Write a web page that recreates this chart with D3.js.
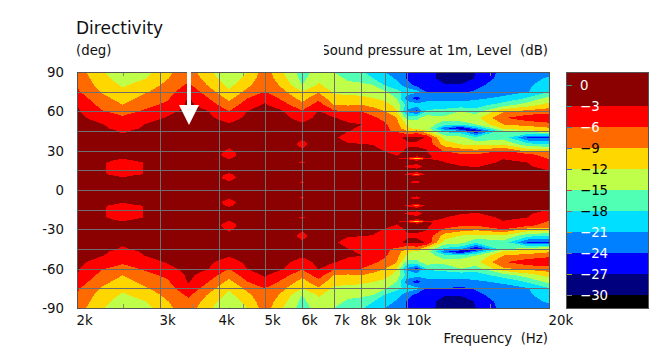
<!DOCTYPE html>
<html>
<head>
<meta charset="utf-8">
<script src="https://cdn.jsdelivr.net/npm/d3@7"></script>
<style>
  html, body { margin: 0; padding: 0; background: #fff; }
  svg { display: block; }
  text { font-family: "DejaVu Sans", sans-serif; font-size: 13.3px; fill: #111; white-space: pre; }
</style>
</head>
<body>
<svg id="chart" width="666" height="351"></svg>
<script>
// measured columns (Hz)
const freqs = [2000, 2250, 2500, 2800, 3100, 3450, 3800, 4200, 4600, 5000, 5500, 6000, 6500, 7000,
  7500, 8000, 8500, 9000, 9500, 10000, 10500, 11000, 12000, 13000, 14000, 16000, 18000, 20000];

// measured rows (deg), response is mirrored below 0
const angles = [90, 85, 80, 75, 70, 65, 60, 55, 50, 47, 45, 40, 35, 30, 27, 25, 24, 23, 21, 18, 15, 13, 12, 11, 9, 6, 3, 0];

// level in dB, one row per angle, one value per freq
const levels = [
  [-7.5,-11.5,-14.5,-13,-9.6,-7.5,-11.3,-15.2,-12,-7.5,-12.3,-16.5,-13.5,-15,-15.7,-17.5,-19.5,-21,-22.5,-24.2,-26,-26,-28,-28.5,-27,-23,-23,-22],
  [-6.9,-10.8,-13.5,-12,-9.2,-6.7,-10.4,-13.8,-10.9,-7,-11.3,-15.8,-12.7,-14.2,-15.3,-16,-18,-19.5,-21.3,-24.2,-26,-26,-27.8,-28.3,-26.8,-22.5,-22.2,-20.5],
  [-6.3,-10.1,-12.4,-10.6,-8.3,-5.4,-9.3,-12.8,-9.7,-6.5,-10,-15,-11.6,-13.4,-14.5,-14.4,-15,-18.3,-19.8,-22.5,-25.2,-25,-26.8,-26.8,-25,-22,-21.7,-19],
  [-5.5,-9.2,-11.3,-9.3,-7.4,-3.9,-7.7,-11.6,-8.1,-6,-8.7,-12,-9.4,-12.5,-12.8,-13,-13.7,-14.6,-17,-19,-20,-24,-24,-24.6,-23.6,-22,-21.2,-18.3],
  [-4.3,-8,-10.2,-8,-6.5,-2.8,-6,-9.8,-6,-3.9,-7,-10.1,-7,-11.1,-11.2,-11.4,-12,-12.8,-15,-22.5,-25.5,-22,-22,-22,-21.5,-20.5,-17.6,-14],
  [-3,-6.9,-9,-6.8,-5.4,-2.4,-4.5,-7.9,-4.3,-2.7,-5.1,-8.2,-4.5,-9,-9.4,-9,-10,-11,-13,-19,-19.5,-20,-19.5,-20,-19.5,-16.5,-13.5,-11],
  [-2.6,-5.7,-7.1,-5.5,-3.9,-2.1,-3,-6,-2.9,-2.4,-3,-5.6,-2.8,-5.4,-6,-6,-7.5,-9,-11.7,-21.5,-25,-17.5,-17,-15,-16.5,-9.6,-8,-7.2],
  [-2.3,-4.2,-5.5,-4.1,-2.8,-2,-2.6,-4.1,-2.5,-2.2,-2.6,-3.8,-2.5,-2.8,-3.9,-4.2,-5.5,-6.9,-8.8,-16,-15.8,-13.5,-14,-12.5,-13,-6.3,-4.2,-3.8],
  [-2,-2.8,-4.4,-2.9,-2.4,-1.9,-2.3,-2.8,-2.3,-2,-2.3,-2.7,-2.3,-2.4,-2.6,-2.95,-3.6,-5.6,-7.8,-12.4,-13.2,-13.5,-16.5,-17.5,-15,-9,-8,-6.8],
  [-2,-2.6,-3.7,-2.7,-2.3,-1.9,-2.2,-2.5,-2.2,-2,-2.2,-2.5,-2.2,-2.3,-2.7,-3.3,-3.9,-5.5,-7,-11.5,-13,-13,-23,-27.5,-21.5,-11.5,-10.5,-9.5],
  [-1.9,-2.4,-3.2,-2.5,-2.2,-1.9,-2.1,-2.4,-2.1,-1.9,-2.1,-2.4,-2.1,-2.3,-2.9,-3.6,-4.2,-5.5,-6.5,-9,-8,-11.9,-19,-20.5,-27.2,-15.5,-12.9,-11.5],
  [-1.9,-2.3,-2.7,-2.3,-2,-1.9,-2,-2.2,-2,-1.9,-2,-2.8,-2,-2.6,-4,-4.6,-5,-5.4,-3.4,-2.7,-2.3,-3.2,-13,-14,-17.5,-16,-24.2,-24.5],
  [-1.8,-2.3,-2.5,-2.2,-1.9,-1.8,-2,-2.5,-2,-1.8,-2,-3.5,-2,-2.4,-2.8,-2.9,-3.1,-4.5,-4,-3.2,-3.4,-3.6,-10.5,-12.2,-13,-12.5,-17,-18.5],
  [-1.8,-2.2,-2.5,-2.2,-1.9,-1.8,-2,-3.3,-2,-1.8,-2,-2.8,-2,-2.2,-2.5,-2.5,-2.6,-3.1,-3.6,-2.8,-2.4,-2.9,-6.3,-7.5,-8.3,-6,-10,-10],
  [-1.8,-2.3,-2.6,-2.2,-1.9,-1.8,-2.1,-3.6,-2.1,-1.8,-2,-2.4,-2,-2.1,-2.4,-3.05,-2.4,-2.6,-3.1,-2.6,-2.2,-2.6,-4.6,-5.7,-5.8,-4.3,-5.2,-7.5],
  [-1.8,-2.4,-2.8,-2.3,-1.9,-1.8,-2.1,-3.3,-2.1,-1.8,-2,-2.4,-2,-2.1,-2.3,-2.3,-2.3,-2.5,-2.9,-2.6,-3.4,-2.5,-4,-4.8,-5.1,-3.4,-4.3,-6.6],
  [-1.8,-2.5,-2.95,-2.4,-1.9,-1.8,-2.1,-3.1,-2.1,-1.8,-2,-2.5,-2,-2.1,-2.3,-2.3,-2.3,-2.4,-2.8,-3.6,-11.5,-3.1,-3.7,-4.5,-4.6,-3.1,-3.9,-6.2],
  [-1.8,-2.6,-3.2,-2.5,-1.9,-1.8,-2.1,-2.8,-2.1,-1.8,-2,-2.8,-2,-2.1,-2.2,-2.2,-2.3,-2.4,-2.7,-2.6,-3.4,-2.5,-3.4,-4.2,-4.3,-2.9,-3.5,-5.8],
  [-1.8,-2.8,-3.6,-2.9,-1.9,-1.8,-2.1,-2.5,-2.1,-1.8,-2,-3.2,-2,-2,-2.2,-2.2,-2.2,-2.3,-2.4,-2.4,-2.4,-2.3,-2.9,-3.8,-3.8,-2.7,-3,-5],
  [-1.8,-2.8,-3.7,-2.9,-1.9,-1.8,-2,-2.3,-2,-1.8,-2,-2.6,-2,-2,-2.1,-2.2,-2.2,-2.2,-2.3,-3.2,-3.8,-2.4,-2.5,-2.9,-3.1,-2.5,-2.7,-4],
  [-1.8,-2.8,-3.7,-2.9,-1.9,-1.8,-2,-2.5,-2,-1.8,-2,-2.3,-2,-2,-2.1,-2.1,-2.2,-2.2,-2.2,-2.4,-2.4,-2.3,-2.4,-2.6,-2.6,-2.4,-2.5,-3],
  [-1.8,-2.8,-3.6,-2.9,-1.9,-1.8,-2,-3,-2,-1.8,-2,-2.2,-2,-2,-2,-2.1,-2.1,-2.2,-2.2,-2.6,-3.3,-2.3,-2.3,-2.5,-2.5,-2.4,-2.4,-2.7],
  [-1.8,-2.8,-3.6,-2.9,-1.9,-1.8,-2,-3.2,-2,-1.8,-2,-2.2,-2,-2,-2,-2.1,-2.1,-2.2,-2.2,-3.4,-8,-2.4,-2.3,-2.4,-2.4,-2.3,-2.4,-2.6],
  [-1.8,-2.7,-3.2,-2.7,-1.9,-1.8,-2,-3.4,-2,-1.8,-2,-2.2,-2,-2,-2,-2,-2.1,-2.1,-2.2,-2.6,-3.3,-2.3,-2.3,-2.4,-2.4,-2.3,-2.4,-2.6],
  [-1.7,-2.5,-2.9,-2.4,-1.9,-1.8,-2,-3.6,-2,-1.8,-2,-2.4,-2,-2,-2,-2,-2,-2.1,-2.2,-2.3,-2.4,-2.3,-2.3,-2.3,-2.3,-2.3,-2.4,-2.5],
  [-1.7,-2.3,-2.5,-2.2,-1.8,-1.8,-2,-2.8,-2,-1.8,-2,-3.2,-2,-2,-2,-2,-2,-2,-2.2,-2.9,-3.4,-2.3,-2.2,-2.2,-2.2,-2.3,-2.3,-2.5],
  [-1.7,-2.2,-2.4,-2.1,-1.8,-1.8,-2,-2.3,-2,-1.8,-2,-2.4,-2,-2,-2,-2,-2,-2,-2.2,-2.2,-2.3,-2.2,-2.2,-2.2,-2.2,-2.2,-2.3,-2.4],
  [-1.7,-2.2,-2.4,-2.1,-1.8,-1.8,-2,-2.2,-2,-1.8,-2,-2.2,-2,-2,-2,-2,-2,-2,-2.2,-2.2,-2.2,-2.2,-2.2,-2.2,-2.2,-2.2,-2.3,-2.4]
];

// colour bands, from below -30 up to above -3
const thresholds = [-30, -27, -24, -21, -18, -15, -12, -9, -6, -3];
const bandColors = ['#000000', '#00007f', '#0000ff', '#007fff', '#00dfff', '#50ffb4', '#bfff4a', '#ffd700', '#ff6a00', '#ff0000', '#8b0000'];
const legendTicks = [0, -3, -6, -9, -12, -15, -18, -21, -24, -27, -30];
const legendTickColors = ['#2a9a9a', '#2a9a9a', '#3a8aa0', '#3a6ac0', '#3a6ac0', '#e04040', '#a06a5a', '#b8a020', '#808080', '#a0a020', '#808080'];
const legendTextColors = ['#fff', '#fff', '#fff', '#000', '#000', '#000', '#000', '#fff', '#fff', '#fff', '#fff'];

const majorFreqs = [2000, 3000, 4000, 5000, 6000, 7000, 8000, 9000, 10000, 20000];
const minorFreqs = [2500, 3500, 4500, 15000];
const angleTicks = [90, 75, 60, 45, 30, 15, 0, -15, -30, -45, -60, -75, -90];

const plot = { left: 77, right: 549, top: 72, bottom: 308 };
const legend = { left: 567, right: 648, top: 72, bottom: 308 };

const svg = d3.select('#chart');

const xScale = d3.scaleLog().base(10).domain([2000, 20000]).range([plot.left, plot.right]);
const yScale = d3.scaleLinear().domain([90, -90]).range([plot.top, plot.bottom]);

// mirror the rows to get the whole -90..90 field
const allAngles = angles.concat(angles.slice(0, -1).reverse().map(a => -a));
const allRows = levels.concat(levels.slice(0, -1).reverse());
const values = allRows.flat();

// columns and rows are not evenly spaced, so map grid index -> pixel piecewise
const colToX = d3.scaleLinear().domain(d3.range(freqs.length)).range(freqs.map(f => xScale(f)));
const rowToY = d3.scaleLinear().domain(d3.range(allAngles.length)).range(allAngles.map(a => yScale(a)));

const gridProjection = d3.geoTransform({
  point: function (c, r) { this.stream.point(colToX(c - 0.5), rowToY(r - 0.5)); }
});

const contours = d3.contours()
  .size([freqs.length, allAngles.length])
  .thresholds(thresholds)(values);

svg.append('clipPath').attr('id', 'plot-clip')
  .append('rect')
  .attr('x', plot.left).attr('y', plot.top)
  .attr('width', plot.right - plot.left).attr('height', plot.bottom - plot.top);

const field = svg.append('g').attr('clip-path', 'url(#plot-clip)');

field.append('rect')
  .attr('x', plot.left).attr('y', plot.top)
  .attr('width', plot.right - plot.left).attr('height', plot.bottom - plot.top)
  .attr('fill', bandColors[0]);

field.selectAll('path')
  .data(contours)
  .join('path')
  .attr('d', d3.geoPath(gridProjection))
  .attr('fill', (d, i) => bandColors[i + 1])
  .attr('shape-rendering', 'crispEdges');

// axes, rounded so the grid sits on whole pixels
const xRound = xScale.copy().interpolate(d3.interpolateRound);
const yRound = yScale.copy().interpolate(d3.interpolateRound);

const xAxisG = svg.append('g')
  .attr('transform', `translate(0,${plot.bottom})`)
  .call(d3.axisBottom(xRound)
    .tickValues(majorFreqs)
    .tickSize(-(plot.bottom - plot.top))
    .tickPadding(8)
    .tickFormat(d => (d / 1000) + 'k'));
xAxisG.select('.domain').remove();
xAxisG.selectAll('line').attr('stroke', '#6e6e6e');
xAxisG.selectAll('text')
  .attr('text-anchor', 'start')
  .attr('dx', -1)
  .attr('font-family', null).attr('font-size', null);

const yAxisG = svg.append('g')
  .attr('transform', `translate(${plot.left},0)`)
  .call(d3.axisLeft(yRound)
    .tickValues(angleTicks)
    .tickSize(-(plot.right - plot.left))
    .tickPadding(13)
    .tickFormat(d => d % 30 === 0 ? d : ''));
yAxisG.select('.domain').remove();
yAxisG.selectAll('line').attr('stroke', '#6e6e6e');
yAxisG.selectAll('text').attr('font-family', null).attr('font-size', null);

// little inner ticks at 2.5k 3.5k 4.5k 15k
[[plot.bottom, d3.axisBottom], [plot.top, d3.axisTop]].forEach(([pos, make]) => {
  const g = svg.append('g')
    .attr('transform', `translate(0,${pos})`)
    .call(make(xRound).tickValues(minorFreqs).tickSize(-4).tickFormat(''));
  g.select('.domain').remove();
  g.selectAll('line').attr('stroke', '#8a8a6a');
});

svg.append('rect')
  .attr('x', plot.left + 0.5).attr('y', plot.top + 0.5)
  .attr('width', plot.right - plot.left).attr('height', plot.bottom - plot.top)
  .attr('fill', 'none').attr('stroke', '#555');

// white arrow
svg.append('rect')
  .attr('x', 187).attr('y', 70).attr('width', 4).attr('height', 36)
  .attr('fill', '#fff');
svg.append('path')
  .attr('d', 'M179,105L199,105L189,125Z')
  .attr('fill', '#fff');

// legend
const legendScale = d3.scaleLinear().domain([0, -30]).range([85, 295]);
const legendEdges = [legend.bottom].concat(thresholds.map(t => legendScale(t)), [legend.top]);

svg.selectAll('rect.band')
  .data(bandColors)
  .join('rect')
  .attr('class', 'band')
  .attr('x', legend.left)
  .attr('width', legend.right - legend.left)
  .attr('y', (d, i) => legendEdges[i + 1])
  .attr('height', (d, i) => legendEdges[i] - legendEdges[i + 1])
  .attr('fill', d => d);

const legendAxisG = svg.append('g')
  .attr('transform', `translate(${legend.left},0)`)
  .call(d3.axisRight(legendScale).tickValues(legendTicks).tickSize(5).tickPadding(8));
legendAxisG.select('.domain').remove();
legendAxisG.selectAll('line').attr('stroke', (d, i) => legendTickColors[i]);
legendAxisG.selectAll('text')
  .attr('font-family', null).attr('font-size', null)
  .style('fill', (d, i) => legendTextColors[i]);

svg.append('rect')
  .attr('x', legend.left - 0.5).attr('y', legend.top + 0.5)
  .attr('width', legend.right - legend.left + 1).attr('height', legend.bottom - legend.top)
  .attr('fill', 'none').attr('stroke', '#555');

// titles
svg.append('text').attr('x', 76).attr('y', 34).style('font-size', '17px').text('Directivity');
svg.append('text').attr('x', 76).attr('y', 55).text('(deg)');

svg.append('clipPath').attr('id', 'title-clip')
  .append('rect').attr('x', 324).attr('y', 40).attr('width', 240).attr('height', 20);
svg.append('text')
  .attr('x', 548).attr('y', 55)
  .attr('text-anchor', 'end')
  .attr('clip-path', 'url(#title-clip)')
  .text('Sound pressure at 1m, Level  (dB)');

svg.append('text')
  .attr('x', 548).attr('y', 343)
  .attr('text-anchor', 'end')
  .text('Frequency  (Hz)');
</script>
</body>
</html>
